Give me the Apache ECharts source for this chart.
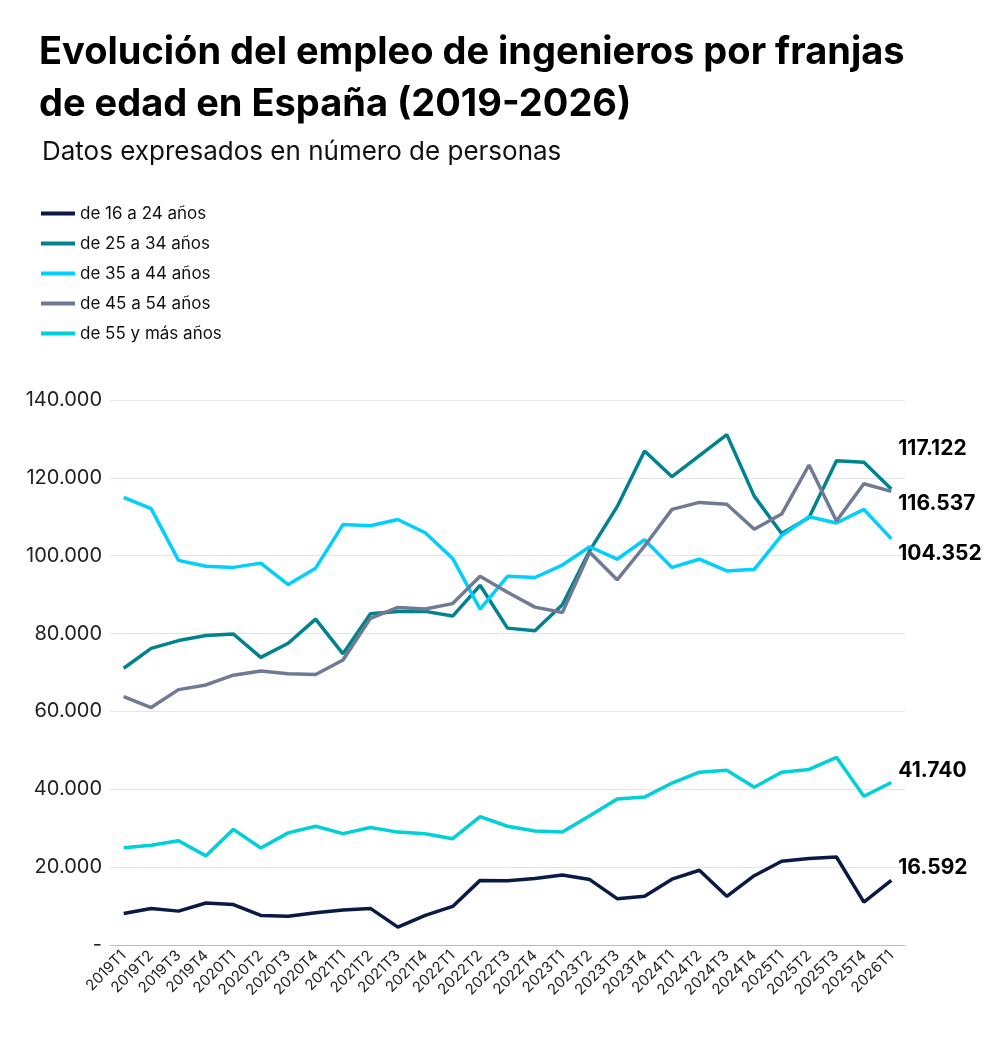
<!DOCTYPE html>
<html><head><meta charset="utf-8">
<script src="https://cdn.jsdelivr.net/npm/echarts@6/dist/echarts.min.js"></script>
<style>html,body{margin:0;padding:0;background:#fff}#c{width:1000px;height:1054px}</style>
</head><body><div id="c"></div>
<script>
const categories = ['2019T1','2019T2','2019T3','2019T4','2020T1','2020T2','2020T3','2020T4','2021T1','2021T2','2021T3','2021T4','2022T1','2022T2','2022T3','2022T4','2023T1','2023T2','2023T3','2023T4','2024T1','2024T2','2024T3','2024T4','2025T1','2025T2','2025T3','2025T4','2026T1'];
const s16_24 = [8100,9400,8700,10800,10400,7600,7400,8300,9000,9400,4600,7600,9900,16600,16500,17100,18000,16800,11900,12500,16900,19200,12500,17800,21500,22200,22600,11000,16592];
const s25_34 = [71100,76200,78200,79500,79900,73900,77500,83700,74800,85100,85700,85700,84500,92400,81400,80700,87400,101300,112600,126900,120300,125700,131100,115300,105700,109800,124400,124000,117122];
const s35_44 = [115000,112100,98800,97300,97000,98100,92600,96800,108000,107700,109300,105900,99300,86300,94700,94400,97600,102300,99100,104100,97000,99100,96100,96500,105200,110000,108400,111900,104352];
const s45_54 = [63800,61000,65600,66800,69300,70400,69700,69500,73200,83900,86700,86300,87700,94700,90600,86800,85400,100900,93800,102500,111900,113700,113200,106800,110700,123300,108900,118500,116537];
const s55 = [25000,25600,26800,22900,29700,24900,28800,30500,28600,30200,29000,28600,27300,33000,30500,29300,29000,33200,37500,38000,41600,44400,44900,40500,44400,45100,48200,38200,41740];
const yTicks = [0,20000,40000,60000,80000,100000,120000,140000];

const fmt = v => v === 0 ? '-' : Math.round(v).toLocaleString('de-DE');
const F = 'Inter, "Noto Sans", sans-serif';
function ser(name, data, color, dy) {
  return {name, type:'line', data, symbol:'none', smooth:false,
    lineStyle:{width:3.5, color}, itemStyle:{color},
    endLabel:{show:true, formatter:p=>fmt(p.value), distance:5, offset:[2,dy], fontFamily:F, fontWeight:'bold', fontSize:21, color:'#000'}};
}
const chart = echarts.init(document.getElementById('c'));
chart.setOption({
  animation:false,
  title:[{text:'Evolución del empleo de ingenieros por franjas\nde edad en España (2019-2026)', left:34, top:22,
    textStyle:{fontFamily:F, fontSize:38, fontWeight:'bold', color:'#000', lineHeight:52}},
    {text:'Datos expresados en número de personas', left:37, top:134, textStyle:{fontFamily:F, fontSize:26, fontWeight:'normal', color:'#111'}}],
  legend:{orient:'vertical', left:36, top:200, itemWidth:34, itemHeight:4, itemGap:13, icon:'rect',
    textStyle:{fontFamily:F, fontSize:17, color:'#111'}},
  grid:{left:110, right:95, top:400, bottom:109},
  xAxis:{type:'category', data:categories, boundaryGap:true,
    axisLine:{lineStyle:{color:'#bbb'}}, axisTick:{show:false},
    axisLabel:{rotate:45, fontFamily:F, fontSize:15, color:'#222', interval:0}},
  yAxis:{type:'value', min:0, max:140000, interval:20000,
    axisLine:{show:false}, axisTick:{show:false},
    splitLine:{lineStyle:{color:'#e4e4e4'}},
    axisLabel:{formatter:v=>yTicks.includes(v)?fmt(v):'', fontFamily:F, fontSize:20, color:'#222', margin:8}},
  series:[
    ser('de 16 a 24 años', s16_24, '#0b1a45', -13),
    ser('de 25 a 34 años', s25_34, '#00838f', -40),
    ser('de 35 a 44 años', s35_44, '#00cfff', 15),
    ser('de 45 a 54 años', s45_54, '#707a94', 12),
    ser('de 55 y más años', s55, '#00d0d8', -12)
  ]
});
</script></body></html>
